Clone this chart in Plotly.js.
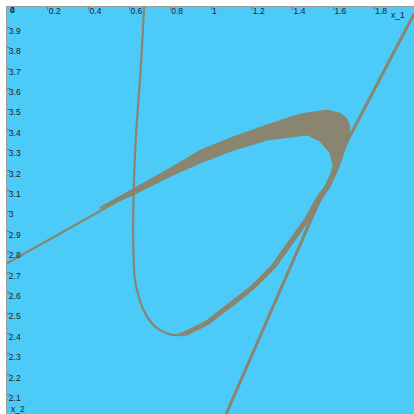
<!DOCTYPE html>
<html>
<head>
<meta charset="utf-8">
<script src="https://cdn.plot.ly/plotly-3.0.1.min.js"></script>
<style>html,body{margin:0;padding:0;background:#fff;}#chart{width:414px;height:414px;}</style>
</head>
<body>
<div id="chart"></div>
<script>
// Parabola-like curve: thin branch from the top, down through its lower bend
const curveAx = [0.672, 0.655, 0.631, 0.621, 0.618, 0.621, 0.627, 0.645, 0.669, 0.701, 0.740, 0.799, 0.848, 0.897];
const curveAy = [4.000, 3.691, 3.348, 3.093, 2.907, 2.760, 2.662, 2.583, 2.515, 2.461, 2.422, 2.395, 2.392, 2.402];

// Shallow straight line from the left edge
const lineCx = [0.000, 0.309, 0.618, 0.701];
const lineCy = [2.744, 2.917, 3.093, 3.137];

// Steep line from bottom to top-right
const lineBx = [1.074, 1.279, 1.485, 1.583, 1.681, 1.828, 1.995];
const lineBy = [2.005, 2.475, 2.946, 3.162, 3.368, 3.648, 3.966];

// Outline of the dense attractor cloud
const cloudX = [0.456, 0.505, 0.618, 0.784, 0.946, 1.108, 1.275, 1.436, 1.569, 1.632, 1.667, 1.681, 1.676,
  1.662, 1.640, 1.615, 1.583, 1.535, 1.478, 1.396, 1.312, 1.213, 1.115, 0.984, 0.882, 0.824,
  0.879, 0.974, 1.101, 1.199, 1.296, 1.378, 1.460, 1.514, 1.559, 1.588, 1.598, 1.583,
  1.534, 1.471, 1.353, 1.275, 1.108, 0.946, 0.784, 0.618, 0.505, 0.456];
const cloudY = [3.018, 3.045, 3.108, 3.201, 3.297, 3.363, 3.422, 3.475, 3.495, 3.480, 3.451, 3.412, 3.363,
  3.314, 3.250, 3.186, 3.118, 3.047, 2.949, 2.835, 2.718, 2.620, 2.541, 2.442, 2.392, 2.390,
  2.412, 2.460, 2.557, 2.635, 2.733, 2.851, 2.963, 3.061, 3.123, 3.176, 3.225, 3.284,
  3.343, 3.373, 3.358, 3.348, 3.297, 3.235, 3.162, 3.078, 3.032, 3.012];

const cornerLabels = ['0', '4'];
const axisNames = ['x_1', 'x_2'];

const col = '#8a8570';
const fnt = {family: 'Liberation Sans, Arial, sans-serif', size: 8.5, color: '#222'};

const traces = [
  {x: cloudX, y: cloudY, mode: 'lines', fill: 'toself', fillcolor: col,
   line: {color: col, width: 1}, hoverinfo: 'skip'},
  {x: curveAx, y: curveAy, mode: 'lines', line: {color: col, width: 2.2, shape: 'spline'}},
  {x: lineCx, y: lineCy, mode: 'lines', line: {color: col, width: 2.2}},
  {x: lineBx, y: lineBy, mode: 'lines', line: {color: col, width: 3}}
];

const axisCommon = {
  showgrid: false, zeroline: false, showline: true, linecolor: '#9a9a9a', linewidth: 1,
  ticks: 'inside', ticklen: 3, tickcolor: '#777', tickwidth: 1,
  tickfont: fnt
};

const layout = {
  width: 414, height: 414,
  margin: {l: 7, r: 0, t: 7, b: 0},
  paper_bgcolor: '#ffffff',
  plot_bgcolor: '#4ccbf9',
  showlegend: false,
  xaxis: Object.assign({}, axisCommon, {side: 'top', range: [0, 1.995], tick0: 0, dtick: 0.2,
    ticklabelposition: 'inside right', ticklabelstandoff: -3}),
  yaxis: Object.assign({}, axisCommon, {range: [2.005, 4], tick0: 2, dtick: 0.1,
    ticklabelposition: 'inside bottom', ticklabelshift: -3}),
  annotations: [
    {text: axisNames[0], xref: 'paper', yref: 'paper', x: 0.961, xanchor: 'center', y: 0.980, yanchor: 'middle', showarrow: false, font: fnt},
    {text: axisNames[1], xref: 'paper', yref: 'paper', x: 0.005, xanchor: 'left', y: 0, yanchor: 'bottom', yshift: -2, showarrow: false, font: fnt},
    {text: cornerLabels[0], xref: 'paper', yref: 'paper', x: 0.003, xanchor: 'left', y: 0.993, yanchor: 'middle', showarrow: false, font: fnt},
    {text: cornerLabels[1], xref: 'paper', yref: 'paper', x: 0.003, xanchor: 'left', y: 0.993, yanchor: 'middle', showarrow: false, font: fnt}
  ]
};

Plotly.newPlot('chart', traces, layout, {displayModeBar: false, staticPlot: true});
</script>
</body>
</html>
